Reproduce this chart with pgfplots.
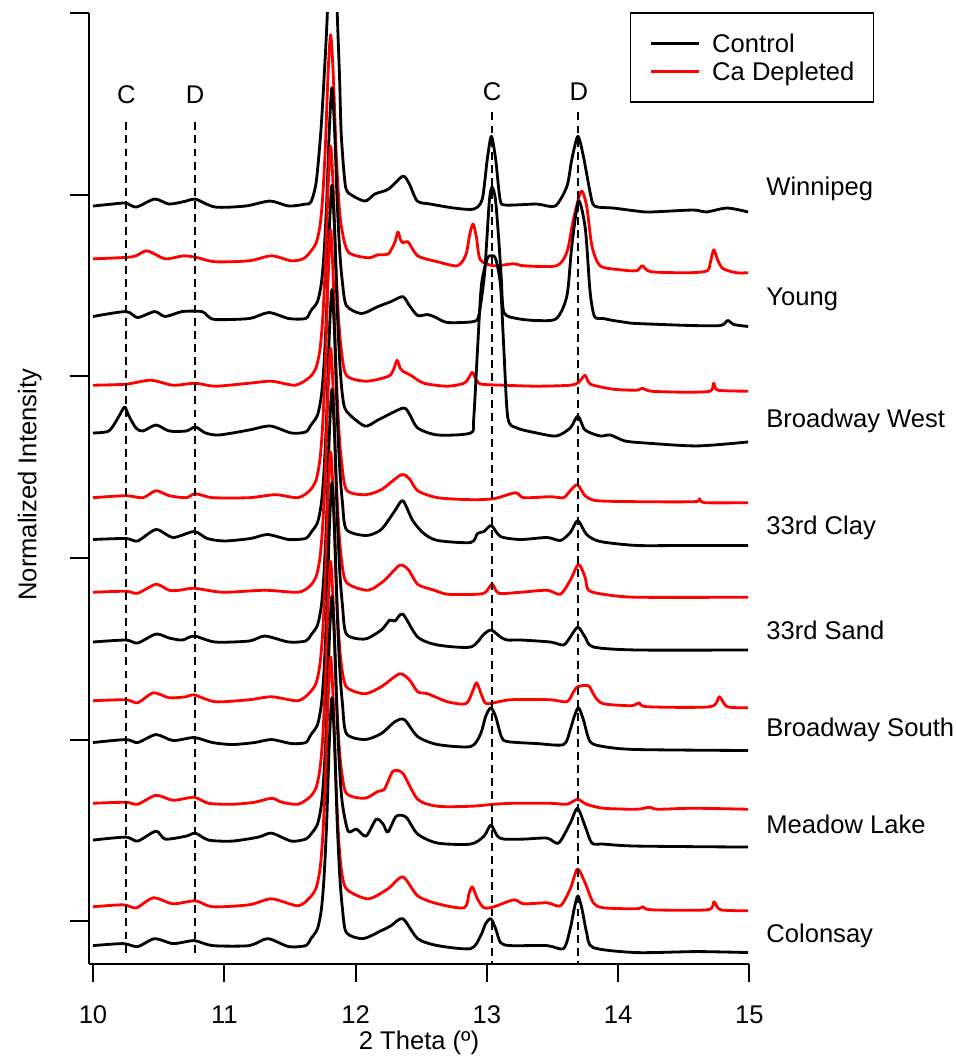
\documentclass[border=0pt]{standalone}
\usepackage{fontspec}
\setmainfont{Liberation Sans}
\usepackage{pgfplots}
\pgfplotsset{compat=1.18}
\definecolor{cadep}{RGB}{255,0,0}
\pgfplotsset{
  ctrl/.style={black, line width=1.1pt, smooth, tension=0.45, line join=round},
  depl/.style={cadep, line width=1.1pt, smooth, tension=0.45, line join=round},
}
\tikzset{refline/.style={black, line width=0.8pt, dash pattern=on 3.1pt off 2pt}}
\begin{document}
\begin{tikzpicture}
\begin{axis}[
  scale only axis, width=258.3pt, height=371.5pt,
  xmin=9.966, xmax=15, ymin=0, ymax=955,
  axis x line*=bottom, axis y line*=left,
  xtick={10,11,12,13,14,15},
  ytick={42.5,225,407.5,590,772.5,955}, yticklabels={},
  tick align=outside, major tick length=7.4pt,
  every tick/.style={black, line width=0.8pt},
  axis line style={line width=0.8pt},
  /pgf/number format/assume math mode=true,
  xticklabel style={yshift=-5.5pt},
  xlabel={2 Theta (º)}, ylabel={Normalized Intensity},
  xlabel style={at={(axis description cs:0.5,-0.0901)}, anchor=base},
  ylabel style={at={(axis description cs:-0.0889,0.5037)}, anchor=center},
  clip mode=individual,
  legend style={at={(0.819,1.001)}, anchor=north west, draw=black, line width=0.6pt,
    inner xsep=7.4pt, inner ysep=8.4pt, row sep=3.6pt, column sep=4.7pt,
    nodes={inner sep=0pt, text depth=0pt}},
  legend cell align=left,
  legend image code/.code={\draw[#1] (0pt,0pt) -- (18.7pt,0pt);},
]
% Winnipeg, control
\addplot[ctrl] coordinates {(10.00,761) (10.15,763) (10.25,764) (10.33,760) (10.47,768) (10.58,763) (10.71,766) (10.78,768) (10.93,760) (11.16,761) (11.35,766) (11.49,761) (11.62,763) (11.66,765) (11.70,785) (11.735,835) (11.76,890) (11.785,955) (11.822,1100) (11.86,955) (11.878,890) (11.89,835) (11.915,790) (11.94,775) (12.07,766) (12.145,773) (12.25,778) (12.36,791) (12.41,783) (12.47,766) (12.57,763) (12.75,759) (12.90,758) (12.965,768) (13.003,808) (13.034,831) (13.067,808) (13.10,768) (13.14,762) (13.38,763) (13.52,761) (13.61,781) (13.647,808) (13.693,831) (13.735,811) (13.786,775) (13.82,761) (13.963,759) (14.14,756) (14.24,755) (14.57,757) (14.67,755) (14.83,759) (14.99,755)};
% Ca depleted
\addplot[depl] coordinates {(10.00,708) (10.30,710) (10.41,716) (10.55,708) (10.69,711) (10.80,709) (10.93,705) (11.19,706) (11.36,711) (11.51,706) (11.60,708) (11.65,714) (11.70,724) (11.73,742) (11.75,771) (11.77,821) (11.79,893) (11.81,933) (11.83,893) (11.85,821) (11.87,771) (11.89,742) (11.943,715) (12.094,709) (12.17,712) (12.25,713) (12.30,725) (12.322,735) (12.34,728) (12.36,724) (12.40,725) (12.473,711) (12.625,705) (12.776,701) (12.84,712) (12.87,733) (12.895,743) (12.92,730) (12.95,707) (13.054,701) (13.205,703) (13.28,701) (13.53,701) (13.61,715) (13.66,748) (13.718,776) (13.76,761) (13.80,721) (13.862,701) (14.013,697) (14.14,696) (14.185,701) (14.25,695) (14.55,694) (14.68,696) (14.70,703) (14.728,717) (14.76,706) (14.80,698) (14.90,694) (14.99,694)};
% Young
\addplot[ctrl, forget plot] coordinates {(10.00,650) (10.25,655) (10.34,649) (10.47,655) (10.55,650) (10.68,655) (10.83,655) (10.87,651) (10.93,647) (11.19,648) (11.34,654) (11.49,648) (11.62,648) (11.66,656) (11.71,665) (11.74,684) (11.76,714) (11.78,765) (11.80,838) (11.82,880) (11.84,838) (11.86,765) (11.88,714) (11.90,684) (11.93,661) (12.044,653) (12.17,660) (12.27,665) (12.36,670) (12.41,661) (12.473,651) (12.55,652) (12.612,649) (12.70,644) (12.90,645) (12.94,652) (12.98,690) (13.00,728) (13.02,768) (13.04,780) (13.065,768) (13.09,728) (13.11,688) (13.13,654) (13.23,648) (13.38,646) (13.53,648) (13.61,671) (13.647,721) (13.698,766) (13.75,738) (13.786,675) (13.82,650) (13.887,648) (13.963,646) (14.064,644) (14.14,643) (14.55,641) (14.78,641) (14.834,646) (14.88,642) (14.99,640)};
\addplot[depl, forget plot] coordinates {(10.00,581) (10.25,582) (10.44,586) (10.61,581) (10.78,583) (10.93,580) (11.19,583) (11.36,585) (11.54,581) (11.65,589) (11.70,599) (11.73,618) (11.75,649) (11.77,702) (11.79,778) (11.81,821) (11.83,778) (11.85,702) (11.87,649) (11.89,618) (11.93,591) (12.08,585) (12.25,590) (12.29,597) (12.316,606) (12.34,598) (12.36,595) (12.42,591) (12.52,583) (12.70,580) (12.827,583) (12.86,588) (12.89,594) (12.92,586) (12.96,582) (13.13,581) (13.38,580) (13.635,581) (13.70,584) (13.748,591) (13.79,582) (13.963,577) (14.14,576) (14.185,578) (14.25,575) (14.50,574) (14.70,575) (14.728,583) (14.76,576) (14.99,575)};
% Broadway West
\addplot[ctrl, forget plot] coordinates {(10.00,533) (10.12,535) (10.19,548) (10.24,559) (10.27,551) (10.327,538) (10.38,535) (10.48,541) (10.58,535) (10.71,535) (10.78,539) (10.857,533) (10.96,531) (11.19,536) (11.35,540) (11.51,533) (11.62,534) (11.66,541) (11.71,551) (11.74,571) (11.76,603) (11.78,658) (11.80,737) (11.82,782) (11.84,737) (11.86,658) (11.88,603) (11.90,571) (11.93,555) (12.07,540) (12.17,546) (12.36,558) (12.41,552) (12.473,538) (12.625,531) (12.877,533) (12.90,548) (12.928,615) (12.958,681) (13.003,708) (13.034,711) (13.067,708) (13.104,681) (13.13,615) (13.16,548) (13.23,538) (13.38,533) (13.53,530) (13.635,538) (13.693,550) (13.748,536) (13.862,530) (13.94,531) (14.05,525) (14.20,523) (14.60,520) (14.99,524)};
\addplot[depl, forget plot] coordinates {(10.00,468) (10.25,470) (10.38,468) (10.48,475) (10.58,470) (10.71,468) (10.78,472) (10.91,468) (11.19,468) (11.39,471) (11.56,468) (11.65,475) (11.70,486) (11.73,508) (11.75,543) (11.77,602) (11.79,688) (11.81,737) (11.83,688) (11.85,602) (11.87,543) (11.89,508) (11.93,476) (12.07,471) (12.195,476) (12.347,491) (12.41,487) (12.473,475) (12.625,468) (12.877,466) (13.054,467) (13.218,473) (13.28,468) (13.483,469) (13.584,468) (13.635,475) (13.69,481) (13.748,470) (13.837,465) (14.14,464) (14.58,464) (14.62,467) (14.66,463) (14.99,463)};
% 33rd Clay
\addplot[ctrl, forget plot] coordinates {(10.00,426) (10.25,427) (10.34,424.5) (10.48,436) (10.61,428) (10.77,434) (10.87,427) (11.00,424.5) (11.20,427) (11.33,431) (11.49,426) (11.62,427) (11.66,433) (11.71,443) (11.74,463) (11.76,496) (11.78,551) (11.80,632) (11.82,677) (11.84,632) (11.86,551) (11.88,496) (11.90,463) (11.93,436) (12.08,430) (12.195,436) (12.30,455) (12.36,465) (12.435,445) (12.52,432) (12.625,425) (12.877,423) (12.928,432) (12.978,434) (13.034,440) (13.104,429) (13.256,426) (13.458,428) (13.56,425) (13.635,433) (13.693,445) (13.76,431) (13.862,424) (14.14,420) (14.50,420) (14.99,420)};
\addplot[depl, forget plot] coordinates {(10.00,373) (10.25,374) (10.34,372) (10.48,381) (10.58,375) (10.66,375) (10.77,377) (10.99,373) (11.31,375) (11.56,373) (11.65,379) (11.70,389) (11.73,409) (11.75,441) (11.77,495) (11.79,574) (11.81,618) (11.83,574) (11.85,495) (11.87,441) (11.89,409) (11.93,383) (12.094,375) (12.22,385) (12.334,400) (12.40,396) (12.473,381) (12.574,376) (12.60,375) (12.70,371) (12.928,371) (12.99,373) (13.041,381) (13.09,372) (13.256,373) (13.458,375) (13.56,371) (13.635,385) (13.698,401) (13.748,388) (13.774,375) (13.887,371) (14.14,368) (14.99,368)};
% 33rd Sand
\addplot[ctrl, forget plot] coordinates {(10.00,323) (10.25,325) (10.34,322) (10.48,331) (10.58,327) (10.68,325) (10.77,329) (10.93,323) (11.19,324) (11.31,329) (11.49,323) (11.62,324) (11.66,330) (11.71,340) (11.74,360) (11.76,393) (11.78,450) (11.80,531) (11.82,577) (11.84,531) (11.86,450) (11.88,393) (11.90,360) (11.93,331) (12.07,326) (12.195,335) (12.26,345) (12.30,344) (12.36,351) (12.473,328) (12.625,320) (12.877,318) (12.978,331) (13.034,335) (13.104,328) (13.155,325) (13.256,325) (13.483,323) (13.584,320) (13.635,328) (13.693,338) (13.748,328) (13.811,318) (14.14,315) (14.99,315)};
\addplot[depl, forget plot] coordinates {(10.00,264) (10.25,265) (10.34,262) (10.46,272) (10.58,267) (10.71,268) (10.77,270) (10.93,263) (11.19,265) (11.36,268) (11.56,264) (11.65,272) (11.70,282) (11.73,302) (11.75,334) (11.77,389) (11.79,469) (11.81,514) (11.83,469) (11.85,389) (11.87,334) (11.89,302) (11.93,278) (12.07,271) (12.195,278) (12.334,291) (12.41,285) (12.473,273) (12.55,271) (12.70,263) (12.84,261) (12.89,273) (12.922,282) (12.965,268) (13.003,261) (13.18,265) (13.483,265) (13.61,263) (13.66,273) (13.69,278) (13.774,279) (13.824,268) (13.887,261) (14.10,259) (14.16,262) (14.22,258) (14.70,258) (14.77,268) (14.83,258) (14.99,257)};
% Broadway South
\addplot[ctrl, forget plot] coordinates {(10.00,222) (10.25,225) (10.34,222) (10.48,230) (10.61,224) (10.77,227) (10.91,222) (11.06,220) (11.23,222) (11.36,225) (11.51,221) (11.62,222) (11.66,230) (11.71,240) (11.74,261) (11.76,295) (11.78,353) (11.80,436) (11.82,483) (11.84,436) (11.86,353) (11.88,295) (11.90,261) (11.93,231) (12.07,225) (12.195,231) (12.30,243) (12.372,245) (12.473,228) (12.625,220) (12.877,218) (12.953,231) (12.99,248) (13.03,257) (13.067,248) (13.11,228) (13.155,223) (13.38,221) (13.584,220) (13.635,235) (13.665,248) (13.698,257) (13.735,245) (13.786,223) (13.887,218) (14.14,215) (14.99,214)};
\addplot[depl, forget plot] coordinates {(10.00,161) (10.25,162) (10.34,160) (10.48,169) (10.61,164) (10.77,167) (10.88,161) (11.06,160) (11.23,162) (11.36,166) (11.44,162) (11.56,160) (11.65,167) (11.70,177) (11.73,197) (11.75,228) (11.77,282) (11.79,360) (11.81,404) (11.83,360) (11.85,282) (11.87,228) (11.89,197) (11.93,171) (12.07,166) (12.17,173) (12.22,175) (12.284,193) (12.36,191) (12.473,165) (12.625,158) (12.877,158) (13.054,160) (13.205,161) (13.483,161) (13.61,160) (13.69,165) (13.76,160) (13.887,156) (14.14,155) (14.24,157) (14.30,155) (14.57,156) (14.99,155)};
% Meadow Lake
\addplot[ctrl, forget plot] coordinates {(10.00,124) (10.25,127) (10.34,123) (10.48,133) (10.55,125) (10.71,128) (10.78,131) (10.88,124) (11.06,123) (11.26,127) (11.36,131) (11.51,123) (11.62,125) (11.66,130) (11.71,140) (11.74,160) (11.76,192) (11.78,246) (11.80,325) (11.82,369) (11.84,325) (11.86,246) (11.88,192) (11.90,160) (11.943,133) (12.006,135) (12.08,128) (12.157,145) (12.21,140) (12.246,132) (12.31,148) (12.385,147) (12.473,130) (12.625,121) (12.877,120) (12.978,128) (13.03,139) (13.08,128) (13.13,125) (13.28,125) (13.458,126) (13.546,121) (13.635,141) (13.69,156) (13.748,138) (13.80,121) (13.887,120) (14.14,118) (14.99,117)};
\addplot[depl, forget plot] coordinates {(10.00,57) (10.23,59) (10.33,56) (10.46,66) (10.61,60) (10.78,63) (10.91,57) (11.19,59) (11.36,65) (11.56,58) (11.65,66) (11.70,76) (11.73,96) (11.75,128) (11.77,183) (11.79,263) (11.81,308) (11.83,263) (11.85,183) (11.87,128) (11.89,96) (11.93,75) (12.094,65) (12.246,75) (12.36,87) (12.473,68) (12.625,60) (12.827,56) (12.865,71) (12.89,77) (12.928,65) (12.978,56) (13.054,57) (13.205,64) (13.28,60) (13.458,61) (13.56,58) (13.635,75) (13.69,95) (13.748,81) (13.811,61) (13.887,56) (14.14,55) (14.19,57) (14.25,54) (14.68,54) (14.73,62) (14.78,54) (14.99,53)};
% Colonsay
\addplot[ctrl, forget plot] coordinates {(10.00,18) (10.23,20) (10.34,17) (10.47,25) (10.61,20) (10.77,23) (10.91,18) (11.19,18) (11.33,25) (11.49,17) (11.62,18) (11.66,25) (11.71,35) (11.74,55) (11.76,87) (11.78,142) (11.80,222) (11.82,267) (11.84,222) (11.86,142) (11.88,87) (11.90,55) (11.93,31) (12.056,25) (12.195,33) (12.27,38) (12.36,45) (12.473,25) (12.625,18) (12.877,15) (12.953,28) (12.99,40) (13.03,45) (13.067,35) (13.104,21) (13.18,18) (13.458,18) (13.584,15) (13.635,35) (13.665,55) (13.693,68) (13.724,55) (13.76,31) (13.81,16) (14.14,11) (14.60,12) (14.99,11)};
\legend{Control, Ca Depleted}

% reference positions C and D
\draw[refline] (axis cs:10.254,845) -- (axis cs:10.254,8);
\draw[refline] (axis cs:10.777,845) -- (axis cs:10.777,8);
\draw[refline] (axis cs:13.04,855) -- (axis cs:13.04,0);
\draw[refline] (axis cs:13.695,855) -- (axis cs:13.695,0);
\node[anchor=base, inner sep=0pt] at (axis cs:10.254,864) {C};
\node[anchor=base, inner sep=0pt] at (axis cs:10.777,864) {D};
\node[anchor=base, inner sep=0pt] at (axis cs:13.04,867) {C};
\node[anchor=base, inner sep=0pt] at (axis cs:13.70,867) {D};

% sample names
\node[anchor=base west, inner sep=0pt] at (axis cs:15.125,772) {Winnipeg};
\node[anchor=base west, inner sep=0pt] at (axis cs:15.125,661) {Young};
\node[anchor=base west, inner sep=0pt] at (axis cs:15.125,539) {Broadway West};
\node[anchor=base west, inner sep=0pt] at (axis cs:15.125,431) {33rd Clay};
\node[anchor=base west, inner sep=0pt] at (axis cs:15.125,326) {33rd Sand};
\node[anchor=base west, inner sep=0pt] at (axis cs:15.125,228) {Broadway South};
\node[anchor=base west, inner sep=0pt] at (axis cs:15.125,131) {Meadow Lake};
\node[anchor=base west, inner sep=0pt] at (axis cs:15.125,21) {Colonsay};

\coordinate (bbl) at (axis cs:9.2917,-95);
\coordinate (btr) at (axis cs:16.572,968);
\end{axis}
\path (bbl) rectangle (btr);
\end{tikzpicture}
\end{document}
